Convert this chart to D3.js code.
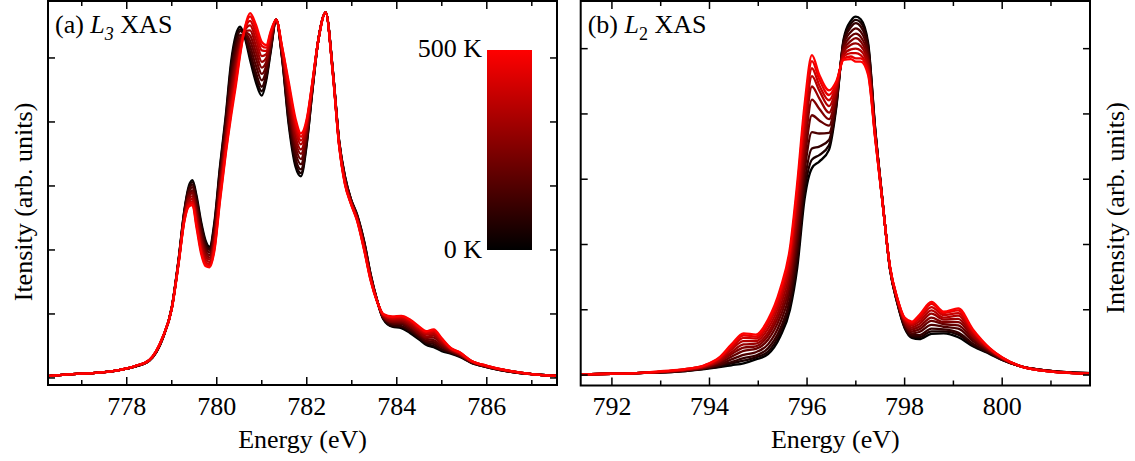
<!DOCTYPE html>
<html lang="en">
<head>
<meta charset="utf-8">
<script src="https://d3js.org/d3.v7.min.js"></script>
<style>
  body { margin: 0; background: #fff; }
  svg text { font-family: "Liberation Serif", "Times New Roman", serif; fill: #000; }
</style>
</head>
<body>
<svg id="chart" width="1135" height="461"></svg>
<script>
// temperatures of the spectra (0 K black ... 500 K red)
var tempsK = [0, 50, 100, 150, 200, 250, 300, 350, 400, 450, 500];

// (a) L3 edge: energies and, for each energy, intensity at 0..500 K
var energyL3 = [776.25, 776.8, 777.3, 777.8, 778.2, 778.5, 778.8, 779.0, 779.15, 779.28,
  779.38, 779.46, 779.55, 779.65, 779.75, 779.84, 779.95, 780.07, 780.2, 780.32,
  780.42, 780.52, 780.63, 780.74, 780.87, 781.0, 781.1, 781.2, 781.32, 781.45,
  781.6, 781.75, 781.87, 782.0, 782.12, 782.25, 782.42, 782.58, 782.72, 782.85,
  782.98, 783.12, 783.28, 783.42, 783.56, 783.7, 783.9, 784.1, 784.3, 784.5,
  784.65, 784.82, 785.0, 785.2, 785.4, 785.65, 786.0, 786.5, 787.0, 787.57];
var intensityL3 = [
  [.03,.03,.03,.03,.03,.03,.03,.03,.03,.03,.03],
  [.06,.06,.06,.06,.06,.06,.06,.06,.06,.06,.06],
  [.08,.08,.08,.08,.08,.08,.08,.08,.08,.08,.08],
  [.12,.12,.12,.12,.12,.12,.12,.12,.12,.12,.12],
  [.18,.18,.18,.18,.18,.19,.19,.19,.19,.19,.19],
  [.27,.27,.27,.27,.27,.28,.28,.28,.28,.28,.28],
  [.62,.62,.62,.63,.63,.63,.63,.63,.64,.64,.64],
  [1.10,1.10,1.10,1.09,1.09,1.09,1.09,1.09,1.08,1.08,1.08],
  [1.84,1.84,1.83,1.82,1.82,1.81,1.80,1.80,1.79,1.78,1.78],
  [2.62,2.61,2.59,2.57,2.55,2.53,2.51,2.49,2.48,2.46,2.45],
  [3.00,2.97,2.95,2.91,2.87,2.83,2.80,2.76,2.73,2.70,2.68],
  [3.09,3.06,3.02,2.98,2.93,2.89,2.84,2.80,2.76,2.73,2.70],
  [2.85,2.81,2.77,2.71,2.65,2.59,2.54,2.48,2.43,2.39,2.35],
  [2.45,2.41,2.37,2.31,2.25,2.19,2.14,2.08,2.03,1.99,1.95],
  [2.15,2.12,2.08,2.03,1.99,1.94,1.90,1.85,1.81,1.78,1.75],
  [2.05,2.02,2.00,1.96,1.92,1.88,1.85,1.81,1.78,1.75,1.73],
  [2.45,2.41,2.37,2.32,2.27,2.22,2.17,2.12,2.07,2.03,2.00],
  [3.30,3.26,3.21,3.14,3.07,3.01,2.95,2.89,2.84,2.79,2.75],
  [4.10,4.05,4.00,3.93,3.85,3.79,3.72,3.66,3.60,3.54,3.50],
  [4.95,4.88,4.81,4.70,4.60,4.51,4.41,4.32,4.24,4.16,4.10],
  [5.35,5.29,5.21,5.12,5.02,4.93,4.85,4.76,4.68,4.61,4.55],
  [5.49,5.45,5.42,5.36,5.31,5.26,5.21,5.16,5.12,5.08,5.05],
  [5.30,5.32,5.33,5.36,5.38,5.40,5.42,5.44,5.46,5.48,5.49],
  [4.97,5.03,5.09,5.18,5.27,5.35,5.43,5.51,5.58,5.65,5.70],
  [4.62,4.69,4.77,4.88,4.99,5.09,5.19,5.29,5.38,5.46,5.52],
  [4.41,4.48,4.55,4.65,4.75,4.85,4.94,5.03,5.12,5.19,5.25],
  [4.65,4.69,4.74,4.81,4.88,4.94,5.00,5.06,5.11,5.16,5.20],
  [5.10,5.13,5.15,5.19,5.23,5.27,5.30,5.34,5.37,5.40,5.42],
  [5.60,5.60,5.60,5.60,5.60,5.60,5.60,5.60,5.60,5.60,5.60],
  [5.00,5.01,5.03,5.05,5.07,5.09,5.11,5.13,5.15,5.17,5.18],
  [3.95,4.00,4.06,4.14,4.22,4.30,4.37,4.45,4.51,4.57,4.62],
  [3.30,3.36,3.43,3.52,3.61,3.69,3.77,3.86,3.93,4.00,4.05],
  [3.15,3.20,3.26,3.34,3.42,3.50,3.57,3.65,3.71,3.77,3.82],
  [3.65,3.68,3.72,3.77,3.81,3.86,3.90,3.95,3.99,4.02,4.05],
  [4.45,4.46,4.48,4.49,4.51,4.53,4.54,4.56,4.58,4.59,4.60],
  [5.25,5.25,5.25,5.25,5.25,5.25,5.25,5.25,5.25,5.25,5.25],
  [5.71,5.71,5.71,5.71,5.71,5.71,5.71,5.71,5.71,5.71,5.71],
  [4.80,4.80,4.79,4.79,4.78,4.77,4.77,4.76,4.76,4.75,4.75],
  [3.70,3.69,3.69,3.68,3.67,3.66,3.65,3.64,3.63,3.63,3.62],
  [3.15,3.14,3.13,3.11,3.10,3.08,3.07,3.05,3.04,3.03,3.02],
  [2.80,2.79,2.79,2.78,2.77,2.76,2.75,2.74,2.73,2.73,2.72],
  [2.55,2.54,2.53,2.52,2.51,2.50,2.49,2.48,2.47,2.46,2.45],
  [2.12,2.11,2.10,2.08,2.06,2.05,2.03,2.02,2.00,1.99,1.98],
  [1.62,1.61,1.60,1.59,1.58,1.57,1.56,1.55,1.54,1.53,1.52],
  [1.22,1.22,1.22,1.21,1.21,1.21,1.21,1.21,1.20,1.20,1.20],
  [.92,.93,.93,.94,.95,.96,.97,.98,.99,.99,1.00],
  [.80,.81,.83,.85,.87,.88,.90,.92,.93,.95,.96],
  [.78,.80,.81,.84,.86,.88,.90,.92,.94,.96,.97],
  [.70,.72,.74,.76,.79,.81,.83,.86,.88,.90,.91],
  [.60,.62,.63,.66,.68,.70,.73,.75,.77,.79,.80],
  [.52,.54,.56,.58,.61,.63,.65,.68,.70,.72,.73],
  [.48,.50,.53,.56,.59,.63,.66,.69,.72,.74,.76],
  [.42,.44,.45,.48,.50,.52,.55,.57,.59,.61,.62],
  [.38,.39,.40,.41,.42,.43,.44,.45,.46,.46,.47],
  [.33,.34,.34,.35,.36,.37,.37,.38,.39,.40,.40],
  [.24,.24,.25,.25,.25,.26,.26,.26,.27,.27,.27],
  [.17,.17,.17,.18,.18,.18,.18,.18,.19,.19,.19],
  [.10,.10,.10,.10,.10,.11,.11,.11,.11,.11,.11],
  [.06,.06,.06,.06,.06,.06,.06,.06,.06,.06,.06],
  [.03,.03,.03,.03,.03,.03,.03,.03,.03,.03,.03]
];

// (b) L2 edge
var energyL2 = [791.36, 792.0, 792.5, 793.0, 793.5, 793.9, 794.2, 794.45, 794.7, 794.95,
  795.2, 795.45, 795.65, 795.8, 795.95, 796.1, 796.25, 796.45, 796.6, 796.75,
  796.9, 797.0, 797.1, 797.25, 797.4, 797.55, 797.7, 797.85, 798.0, 798.15,
  798.3, 798.55, 798.8, 799.1, 799.4, 799.75, 800.0, 800.4, 800.8, 801.2, 801.8];
var intensityL2 = [
  [.01,.01,.01,.01,.01,.01,.01,.01,.01,.01,.01],
  [.02,.02,.02,.02,.02,.02,.02,.02,.02,.02,.02],
  [.03,.03,.03,.03,.03,.03,.03,.03,.03,.03,.03],
  [.04,.04,.04,.04,.05,.05,.05,.05,.05,.05,.06],
  [.06,.06,.07,.07,.07,.08,.08,.08,.09,.09,.09],
  [.09,.10,.10,.11,.11,.12,.13,.13,.14,.15,.15],
  [.12,.13,.15,.16,.18,.20,.21,.23,.25,.26,.27],
  [.15,.18,.20,.24,.28,.32,.35,.39,.42,.45,.47],
  [.18,.22,.26,.31,.37,.42,.47,.52,.57,.61,.64],
  [.24,.27,.30,.35,.40,.44,.48,.52,.56,.59,.62],
  [.32,.36,.41,.47,.54,.60,.65,.71,.77,.81,.85],
  [.59,.65,.71,.80,.89,.97,1.05,1.13,1.20,1.27,1.32],
  [1.00,1.08,1.16,1.28,1.39,1.49,1.60,1.70,1.80,1.88,1.95],
  [1.65,1.75,1.87,2.03,2.18,2.33,2.47,2.61,2.74,2.86,2.95],
  [2.70,2.82,2.95,3.12,3.29,3.45,3.61,3.77,3.92,4.05,4.15],
  [3.17,3.30,3.47,3.72,3.98,4.22,4.42,4.58,4.70,4.81,4.90],
  [3.27,3.37,3.50,3.70,3.90,4.08,4.24,4.36,4.44,4.53,4.60],
  [3.45,3.52,3.60,3.71,3.82,3.92,4.02,4.12,4.21,4.29,4.36],
  [4.10,4.13,4.17,4.22,4.26,4.31,4.35,4.40,4.44,4.47,4.50],
  [5.15,5.12,5.10,5.06,5.02,4.98,4.95,4.91,4.88,4.85,4.83],
  [5.43,5.38,5.33,5.26,5.19,5.12,5.06,4.99,4.93,4.88,4.84],
  [5.49,5.44,5.39,5.31,5.23,5.16,5.08,5.00,4.93,4.85,4.80],
  [5.45,5.40,5.34,5.26,5.18,5.11,5.04,4.97,4.90,4.85,4.80],
  [5.10,5.06,5.02,4.96,4.90,4.84,4.79,4.73,4.68,4.64,4.60],
  [3.75,3.74,3.72,3.71,3.69,3.67,3.66,3.64,3.62,3.61,3.60],
  [2.65,2.65,2.64,2.64,2.64,2.63,2.63,2.63,2.62,2.62,2.62],
  [1.62,1.62,1.63,1.63,1.64,1.64,1.65,1.65,1.65,1.66,1.66],
  [1.10,1.11,1.11,1.12,1.13,1.14,1.15,1.16,1.17,1.17,1.18],
  [.72,.73,.75,.77,.79,.80,.82,.84,.85,.87,.88],
  [.57,.59,.61,.64,.67,.70,.73,.76,.78,.80,.82],
  [.55,.58,.61,.66,.70,.74,.78,.82,.86,.89,.92],
  [.63,.67,.71,.77,.83,.88,.94,.99,1.04,1.09,1.12],
  [.64,.67,.70,.74,.78,.81,.85,.88,.92,.95,.97],
  [.58,.62,.65,.71,.76,.81,.86,.91,.95,.99,1.02],
  [.44,.46,.48,.52,.55,.58,.60,.63,.66,.68,.70],
  [.32,.33,.34,.35,.36,.37,.38,.39,.40,.40,.41],
  [.23,.23,.24,.24,.25,.25,.26,.26,.26,.27,.27],
  [.13,.13,.13,.13,.13,.13,.13,.13,.13,.13,.13],
  [.08,.08,.08,.08,.08,.08,.07,.07,.07,.07,.07],
  [.05,.05,.05,.05,.05,.04,.04,.04,.04,.04,.04],
  [.03,.03,.03,.03,.02,.02,.02,.02,.02,.02,.02]
];

var majorTicksL3 = [778, 780, 782, 784, 786];
var minorTicksL3 = [777, 779, 781, 783, 785, 787];
var majorTicksL2 = [792, 794, 796, 798, 800];
var minorTicksL2 = [793, 795, 797, 799, 801];
var yTicks = [0, 1, 2, 3, 4, 5];

var svg = d3.select("#chart");
var color = d3.scaleLinear().domain([0, 500]).range(["#000000", "#ff0000"]);

function drawPanel(cfg) {
    var x = d3.scaleLinear().domain(cfg.xDomain).range([cfg.left, cfg.right]);
    var y = d3.scaleLinear().domain(cfg.yDomain).range([cfg.bottom, cfg.top]);
    var g = svg.append("g");

    g.append("clipPath").attr("id", cfg.id + "-clip")
        .append("rect")
        .attr("x", cfg.left).attr("y", cfg.top)
        .attr("width", cfg.right - cfg.left).attr("height", cfg.bottom - cfg.top);

    var line = d3.line()
        .x(function(d) { return x(d[0]); })
        .y(function(d) { return y(d[1]); })
        .curve(d3.curveMonotoneX);

    var series = tempsK.map(function(t, k) {
        return { t: t, pts: cfg.energy.map(function(e, i) { return [e, cfg.rows[i][k]]; }) };
    });

    g.append("g").attr("clip-path", "url(#" + cfg.id + "-clip)")
        .selectAll("path")
        .data(series)
        .join("path")
        .attr("d", function(d) { return line(d.pts); })
        .attr("fill", "none")
        .attr("stroke", function(d) { return color(d.t); })
        .attr("stroke-width", 2.3)
        .attr("stroke-linejoin", "round");

    // inward ticks on all four sides
    var ticks = g.append("g").attr("stroke", "#000").attr("stroke-width", 1.5);
    function xt(vals, len) {
        vals.forEach(function(v) {
            var px = x(v);
            ticks.append("line").attr("x1", px).attr("x2", px).attr("y1", cfg.bottom).attr("y2", cfg.bottom - len);
            ticks.append("line").attr("x1", px).attr("x2", px).attr("y1", cfg.top).attr("y2", cfg.top + len);
        });
    }
    xt(cfg.major, 8);
    xt(cfg.minor, 5);
    yTicks.forEach(function(v) {
        var py = y(v);
        ticks.append("line").attr("x1", cfg.left).attr("x2", cfg.left + 7).attr("y1", py).attr("y2", py);
        ticks.append("line").attr("x1", cfg.right).attr("x2", cfg.right - 7).attr("y1", py).attr("y2", py);
    });

    g.append("rect")
        .attr("x", cfg.left).attr("y", cfg.top)
        .attr("width", cfg.right - cfg.left).attr("height", cfg.bottom - cfg.top)
        .attr("fill", "none").attr("stroke", "#000").attr("stroke-width", 2);

    g.selectAll("text.tick")
        .data(cfg.major)
        .join("text")
        .attr("class", "tick")
        .attr("x", function(d) { return x(d); })
        .attr("y", 415)
        .attr("text-anchor", "middle")
        .attr("font-size", 26)
        .text(function(d) { return d; });

    g.append("text")
        .attr("x", (cfg.left + cfg.right) / 2)
        .attr("y", 448)
        .attr("text-anchor", "middle")
        .attr("font-size", 26)
        .text("Energy (eV)");

    var lab = g.append("text")
        .attr("x", cfg.left + 7)
        .attr("y", 33)
        .attr("font-size", 26);
    lab.append("tspan").text(cfg.tag + " ");
    lab.append("tspan").attr("font-style", "italic").text("L");
    lab.append("tspan").attr("font-size", 18).attr("dy", 7)
        .attr("font-style", cfg.subItalic ? "italic" : "normal").text(cfg.sub);
    lab.append("tspan").attr("dy", -7).text(" XAS");

    g.append("text")
        .attr("transform", "translate(" + cfg.yLabelX + "," + cfg.yLabelY + ") rotate(-90)")
        .attr("text-anchor", "middle")
        .attr("font-size", 26)
        .text(cfg.yLabel);

    return g;
}

drawPanel({
    id: "l3", energy: energyL3, rows: intensityL3,
    xDomain: [776.25, 787.56], yDomain: [-0.11, 5.89],
    left: 48, right: 557, top: 1, bottom: 385,
    major: majorTicksL3, minor: minorTicksL3,
    tag: "(a)", sub: "3", subItalic: true,
    yLabel: "Itensity (arb. units)", yLabelX: 32, yLabelY: 202
});

drawPanel({
    id: "l2", energy: energyL2, rows: intensityL2,
    xDomain: [791.36, 801.8], yDomain: [-0.16, 5.73],
    left: 580.7, right: 1090, top: 1, bottom: 385.5,
    major: majorTicksL2, minor: minorTicksL2,
    tag: "(b)", sub: "2", subItalic: false,
    yLabel: "Intensity (arb. units)", yLabelX: 1124, yLabelY: 208
});

// temperature colour bar
var defs = svg.append("defs");
var grad = defs.append("linearGradient").attr("id", "tbar")
    .attr("x1", 0).attr("y1", 1).attr("x2", 0).attr("y2", 0);
grad.selectAll("stop")
    .data([0, 500])
    .join("stop")
    .attr("offset", function(d) { return d / 500; })
    .attr("stop-color", function(d) { return color(d); });

var barY = d3.scaleLinear().domain([0, 500]).range([250, 50]);
svg.append("rect")
    .attr("x", 487).attr("y", barY(500))
    .attr("width", 45).attr("height", barY(0) - barY(500))
    .attr("fill", "url(#tbar)");
svg.selectAll("text.bar")
    .data([500, 0])
    .join("text")
    .attr("class", "bar")
    .attr("x", 482)
    .attr("y", function(d) { return barY(d) + (d === 500 ? 7 : 8); })
    .attr("text-anchor", "end")
    .attr("font-size", 26)
    .text(function(d) { return d + " K"; });
</script>
</body>
</html>
